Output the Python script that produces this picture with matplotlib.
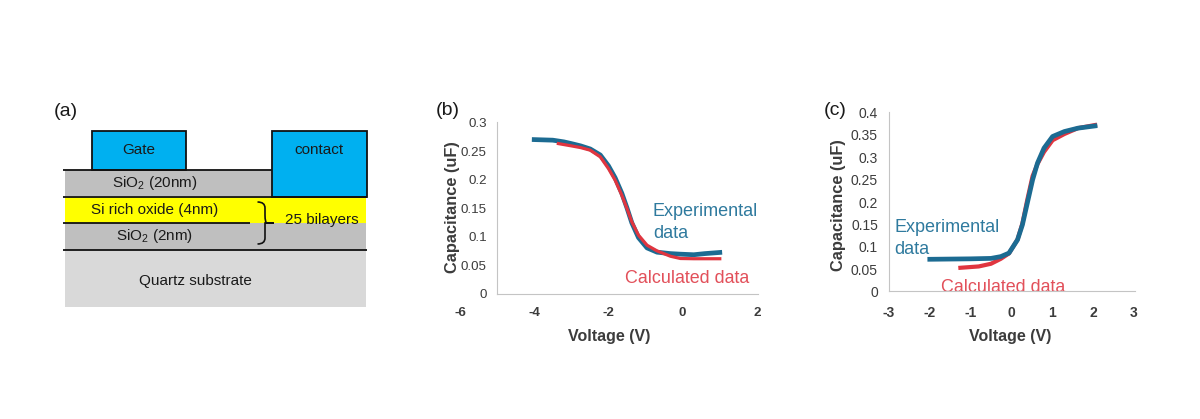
import matplotlib
matplotlib.use("Agg")
import matplotlib.pyplot as plt
from matplotlib.patches import Rectangle, PathPatch
from matplotlib.path import Path

plt.rcParams['font.family'] = ['Liberation Sans', 'DejaVu Sans']
plt.rcParams['mathtext.fontset'] = 'custom'
plt.rcParams['mathtext.rm'] = 'Liberation Sans'

W, H = 1200, 419

# panel (b) values
b_exp_v = [-4, -3.5, -3.2, -3, -2.75, -2.49, -2.22, -2, -1.82, -1.64, -1.5, -1.37, -1.19, -0.96, -0.69, -0.33, -0.06, 0.3, 0.6, 1]
b_exp_c = [0.27, 0.269, 0.266, 0.263, 0.259, 0.2535, 0.243, 0.224, 0.203, 0.176, 0.15, 0.124, 0.098, 0.08, 0.0725, 0.07, 0.069, 0.068, 0.07, 0.072]
b_calc_v = [-3.35, -3, -2.75, -2.49, -2.22, -2, -1.82, -1.64, -1.5, -1.37, -1.19, -0.96, -0.69, -0.33, -0.06, 0.3, 0.6, 1]
b_calc_c = [0.263, 0.259, 0.256, 0.2514, 0.2397, 0.2192, 0.1988, 0.1725, 0.149, 0.1257, 0.1023, 0.0847, 0.0747, 0.0654, 0.0614, 0.061, 0.061, 0.061]
b_xticks = [-6, -4, -2, 0, 2]
b_yticks = [0, 0.05, 0.1, 0.15, 0.2, 0.25, 0.3]

# panel (c) values
c_exp_v = [-2, -1, -0.5, -0.26, -0.06, 0.15, 0.27, 0.39, 0.52, 0.64, 0.8, 1.01, 1.3, 1.63, 2.05]
c_exp_c = [0.072, 0.073, 0.074, 0.078, 0.0858, 0.1155, 0.149, 0.1975, 0.2496, 0.287, 0.3204, 0.3464, 0.3575, 0.365, 0.37]
c_calc_v = [-1.25, -0.8, -0.5, -0.26, -0.06, 0.15, 0.27, 0.39, 0.52, 0.64, 0.8, 1.01, 1.3, 1.63, 2.05]
c_calc_c = [0.053, 0.056, 0.062, 0.073, 0.085, 0.116, 0.152, 0.205, 0.258, 0.285, 0.312, 0.338, 0.352, 0.365, 0.372]
c_xticks = [-3, -2, -1, 0, 1, 2, 3]
c_yticks = [0, 0.05, 0.1, 0.15, 0.2, 0.25, 0.3, 0.35, 0.4]

exp_color = '#1c6b92'
calc_color = '#e0353f'
text_exp = '#2f7a9e'
text_calc = '#e2505a'
gray_text = '#3c3c3c'

fig = plt.figure(figsize=(W / 100, H / 100), dpi=100)
bg = fig.add_axes([0, 0, 1, 1])
bg.set_xlim(0, W)
bg.set_ylim(H, 0)
bg.axis('off')

# Layer stack of panel (a), in pixels: x0, y0, x1, y1, colour
layers = [
    (65, 249.5, 366, 306.5, '#d9d9d9'),
    (65, 222.5, 366, 249.5, '#bfbfbf'),
    (65, 196.5, 366, 222.5, '#ffff00'),
    (65, 170, 272, 196.5, '#bfbfbf'),
]
for x0, y0, x1, y1, col in layers:
    bg.add_patch(Rectangle((x0, y0), x1 - x0, y1 - y0, facecolor=col, edgecolor='none'))

for x0, y0, x1, y1 in [(91.5, 130.5, 186, 169.5), (271.5, 130.5, 366.5, 196.5)]:
    bg.add_patch(Rectangle((x0, y0), x1 - x0, y1 - y0, facecolor='#00b0f0', edgecolor='#111111', linewidth=1.3))

for x0, x1, y in [(63, 272, 170), (63, 367, 196.5), (63, 249.5, 222.5), (63, 367, 249.5)]:
    bg.plot([x0, x1], [y, y], color='#111111', linewidth=1.3, solid_capstyle='butt')

# The brace next to the bilayers
brace = Path(
    [(257.5, 202), (265, 202), (265, 208), (265, 215), (265, 223), (267, 223), (274, 223),
     (267, 223), (265, 223), (265, 231), (265, 238), (265, 244), (257.5, 244)],
    [Path.MOVETO, Path.CURVE3, Path.CURVE3, Path.LINETO, Path.CURVE3, Path.CURVE3, Path.LINETO,
     Path.CURVE3, Path.CURVE3, Path.LINETO, Path.LINETO, Path.CURVE3, Path.CURVE3])
bg.add_patch(PathPatch(brace, facecolor='none', edgecolor='#111111', linewidth=1.2))

diagram_labels = [
    (139, 150, 'Gate'),
    (319, 150, 'contact'),
    (154.5, 183, r'SiO$_2$ (20nm)'),
    (154.5, 209.5, 'Si rich oxide (4nm)'),
    (155, 235.5, r'SiO$_2$ (2nm)'),
    (322, 220, '25 bilayers'),
    (195, 281, 'Quartz substrate'),
]
for x, y, s in diagram_labels:
    bg.text(x, y, s, fontsize=11, color='#1a1a1a', ha='center', va='center')

for x, y, s in [(66, 111, '(a)'), (448, 110, '(b)'), (835, 110, '(c)')]:
    bg.text(x, y, s, fontsize=14, color='#1a1a1a', ha='center', va='center')


def make_axes(x0, x1, y0, y1):
    # pixel box to figure fraction
    return fig.add_axes([x0 / W, 1 - y1 / H, (x1 - x0) / W, (y1 - y0) / H])


def style_axes(ax, xlim, ylim, xticks, yticks, spine_x, size):
    ax.patch.set_alpha(0)
    ax.set_xlim(*xlim)
    ax.set_ylim(*ylim)
    ax.set_xticks(xticks)
    ax.set_xticklabels([str(t) for t in xticks])
    ax.set_yticks(yticks)
    ax.set_yticklabels(['%g' % t for t in yticks])
    ax.tick_params(length=0, labelsize=size, labelcolor=gray_text)
    for lab in ax.get_xticklabels() + ax.get_yticklabels():
        lab.set_fontweight('bold')
    ax.spines['top'].set_visible(False)
    ax.spines['right'].set_visible(False)
    ax.spines['left'].set_position(('data', spine_x))
    ax.spines['left'].set_color('#c4c4c4')
    ax.spines['bottom'].set_color('#c4c4c4')
    ax.spines['bottom'].set_bounds(spine_x, xlim[1])


# Panel (b)
ax_b = make_axes(460, 758, 122.5, 293.5)
style_axes(ax_b, (-6, 2.03), (0, 0.3), b_xticks, b_yticks, -5, 9.6)
ax_b.tick_params(axis='x', pad=9.5)
ax_b.tick_params(axis='y', pad=7.5)
ax_b.plot(b_exp_v, b_exp_c, color=exp_color, linewidth=3.4, solid_joinstyle='round')
ax_b.plot(b_calc_v, b_calc_c, color=calc_color, linewidth=2.3, solid_joinstyle='round')

# Panel (c)
ax_c = make_axes(889, 1135, 112.5, 291.5)
style_axes(ax_c, (-3, 3.03), (0, 0.4), c_xticks, c_yticks, -3, 10)
ax_c.tick_params(axis='x', pad=10.5)
ax_c.tick_params(axis='y', pad=8)
ax_c.plot(c_calc_v, c_calc_c, color=calc_color, linewidth=3, solid_joinstyle='round')
ax_c.plot(c_exp_v, c_exp_c, color=exp_color, linewidth=3.4, solid_joinstyle='round')

# Axis titles and curve names, placed in pixels
bg.text(609, 336, 'Voltage (V)', fontsize=11.5, fontweight='bold', color=gray_text, ha='center', va='center')
bg.text(452, 207, 'Capacitance (uF)', fontsize=11.8, fontweight='bold', color=gray_text, rotation=90, ha='center', va='center')
bg.text(1010, 336, 'Voltage (V)', fontsize=11.5, fontweight='bold', color=gray_text, ha='center', va='center')
bg.text(838, 205, 'Capacitance (uF)', fontsize=11.8, fontweight='bold', color=gray_text, rotation=90, ha='center', va='center')

bg.text(653, 211, 'Experimental', fontsize=13, color=text_exp, ha='left', va='center')
bg.text(653, 233, 'data', fontsize=13, color=text_exp, ha='left', va='center')
bg.text(625, 278, 'Calculated data', fontsize=12.9, color=text_calc, ha='left', va='center')
bg.text(894, 227, 'Experimental', fontsize=13, color=text_exp, ha='left', va='center')
bg.text(894, 249, 'data', fontsize=13, color=text_exp, ha='left', va='center')
bg.text(941, 287, 'Calculated data', fontsize=12.9, color=text_calc, ha='left', va='center', zorder=5)

fig.savefig('out.png', dpi=100)
